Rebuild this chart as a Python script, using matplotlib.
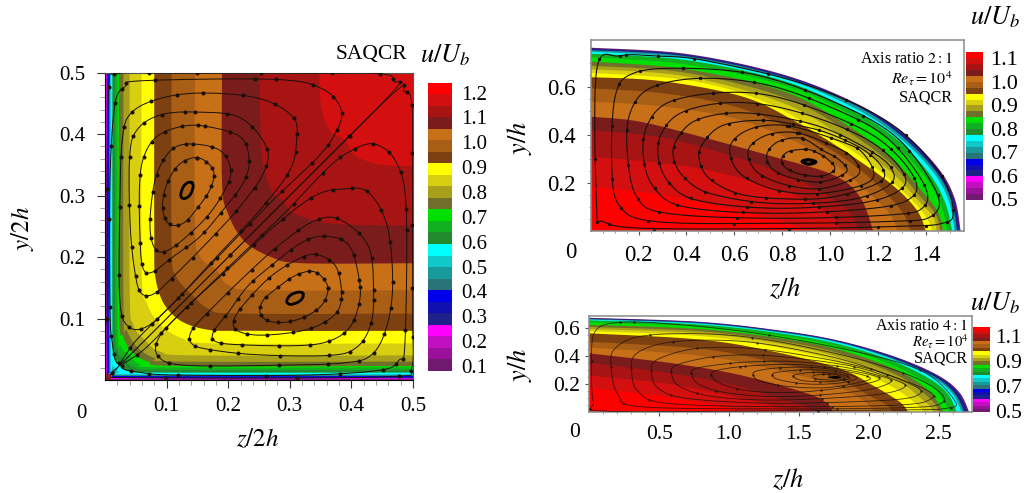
import numpy as np
import matplotlib
matplotlib.use('Agg')
import matplotlib.pyplot as plt
from matplotlib.colors import ListedColormap

plt.rcParams['font.family'] = ['Liberation Serif', 'DejaVu Serif']
plt.rcParams['mathtext.fontset'] = 'stix'

W, H = 1029, 493

# colour bands, lowest value first
band_colors = ['#701a70', '#9a109a', '#c010c0', '#ff00ff', '#20208a', '#1010b0', '#0000e8',
               '#2a7478', '#189a9a', '#10c8c8', '#00ffff', '#208a2c', '#10b020', '#00e000',
               '#70702c', '#a8a01a', '#d8cf10', '#ffff00', '#7d4010', '#a85e14', '#c87018',
               '#7a1c1c', '#a81414', '#d40f0f', '#ff0000']

# ------------------------------------------------------------------ square duct
# iso-lines, half of each: from the top edge down to the diagonal
sq_colors = band_colors[1:24]
sq_levels = [
    [(.001, .5), (.001, .02), (.003, .003)],
    [(.0015, .5), (.0015, .02), (.004, .004)],
    [(.002, .5), (.002, .02), (.005, .005)],
    [(.003, .5), (.003, .025), (.007, .007)],
    [(.004, .5), (.004, .025), (.008, .008)],
    [(.005, .5), (.005, .03), (.010, .010)],
    [(.0065, .5), (.0065, .03), (.012, .012)],
    [(.0075, .5), (.0075, .035), (.010, .018), (.014, .014)],
    [(.0085, .5), (.0085, .035), (.011, .02), (.016, .016)],
    [(.0095, .5), (.0095, .04), (.012, .024), (.019, .019)],
    [(.012, .5), (.012, .1), (.014, .04), (.024, .024)],
    [(.0165, .5), (.0165, .1), (.02, .05), (.032, .032)],
    [(.0205, .5), (.0205, .1), (.026, .055), (.04, .04)],
    [(.0227, .5), (.0227, .12), (.03, .07), (.045, .045)],
    [(.03, .5), (.03, .12), (.036, .08), (.053, .053)],
    [(.04, .5), (.04, .15), (.046, .09), (.065, .065)],
    [(.0595, .5), (.0595, .18), (.068, .125), (.09, .09)],
    [(.08, .5), (.08, .25), (.083, .16), (.108, .108)],
    [(.108, .5), (.108, .22), (.115, .17), (.14, .14)],
    [(.146, .5), (.146, .25), (.155, .2), (.18, .18)],
    [(.19, .5), (.19, .32), (.2, .27), (.226, .226)],
    [(.251, .5), (.253, .39), (.258, .345), (.272, .305), (.29, .29)],
    [(.348, .5), (.351, .444), (.366, .405), (.39, .39)],
]
sq_corner_x = [0, .01, .01, 0]
sq_corner_y = [0, 0, .01, .01]

# streamlines of the upper vortex, the lower one is its mirror image
sq_core = [(.141, .321), (.143, .314), (.138, .301), (.128, .295), (.123, .301), (.127, .314), (.134, .321)]
sq_loop_g = [(.149, .362), (.170, .350), (.177, .333), (.170, .309), (.154, .285), (.130, .257),
             (.108, .252), (.096, .266), (.094, .293), (.103, .325), (.122, .352)]
sq_loop_f = [(.143, .384), (.186, .374), (.204, .344), (.197, .314), (.170, .271), (.132, .233),
             (.100, .210), (.081, .214), (.073, .249), (.078, .309), (.089, .347), (.111, .377)]
sq_loop_e = [(.162, .413), (.219, .396), (.234, .358), (.224, .320), (.192, .277), (.154, .233), (.111, .201),
             (.078, .176), (.062, .181), (.057, .227), (.056, .315), (.063, .363), (.084, .396), (.122, .412)]
sq_loop_d = [(.146, .436), (.219, .427), (.262, .379), (.257, .336), (.219, .282), (.170, .228), (.116, .173),
             (.081, .141), (.059, .141), (.049, .173), (.041, .249), (.040, .363), (.052, .407), (.089, .431)]
sq_loop_c = [(.159, .467), (.251, .458), (.305, .428), (.311, .390), (.300, .341), (.251, .276), (.186, .206),
             (.111, .125), (.068, .087), (.038, .087), (.024, .130), (.024, .282), (.028, .390), (.042, .434),
             (.089, .458)]
sq_loop_b = [(.278, .489), (.354, .473), (.384, .437), (.371, .396), (.343, .360), (.273, .293), (.197, .214),
             (.116, .130), (.051, .065), (.022, .027), (.012, .06), (.008, .119), (.008, .325), (.016, .447),
             (.032, .477), (.062, .487)]
sq_open_a = [(.012, .012), (.25, .25), (.46, .461), (.469, .486), (.451, .498), (.354, .499), (.208, .499),
             (.10, .499), (.02, .498), (.006, .47), (.003, .25), (.004, .01)]

# ------------------------------------------------------------------ ellipse 2:1
el2_colors = ['#701a70', '#20208a', '#189a9a', '#00ffff', '#10b020', '#00e000', '#70702c', '#a8a01a', '#d8cf10',
              '#ffff00', '#7d4010', '#a85e14', '#c87018', '#7a1c1c', '#a81414', '#d40f0f', '#ff0000']
el2_levels = [
    [(0, .765), (.4, .739), (.8, .654), (1.1, .537), (1.3, .413), (1.45, .264), (1.52, .137), (1.545, 0)],
    [(0, .762), (.4, .736), (.8, .651), (1.1, .534), (1.3, .41), (1.445, .262), (1.515, .136), (1.54, 0)],
    [(0, .755), (.4, .729), (.8, .644), (1.1, .527), (1.29, .403), (1.435, .257), (1.505, .132), (1.53, 0)],
    [(0, .748), (.4, .722), (.8, .637), (1.09, .519), (1.28, .397), (1.425, .252), (1.495, .127), (1.52, 0)],
    [(0, .74), (.4, .713), (.8, .628), (1.08, .51), (1.27, .39), (1.41, .245), (1.48, .12), (1.51, 0)],
    [(0, .725), (.4, .695), (.8, .61), (1.06, .5), (1.25, .375), (1.39, .235), (1.46, .115), (1.49, 0)],
    [(0, .707), (.4, .675), (.8, .585), (1.05, .455), (1.25, .31), (1.38, .17), (1.45, .08), (1.472, 0)],
    [(0, .69), (.4, .66), (.8, .56), (1.05, .43), (1.25, .285), (1.37, .15), (1.44, .07), (1.46, 0)],
    [(0, .675), (.4, .645), (.8, .535), (1.05, .395), (1.25, .25), (1.37, .125), (1.43, .06), (1.445, 0)],
    [(0, .66), (.4, .63), (.7, .55), (.95, .42), (1.15, .295), (1.32, .15), (1.4, .06), (1.425, 0)],
    [(0, .642), (.3, .625), (.637, .56), (.85, .46), (1.05, .34), (1.25, .2), (1.36, .09), (1.40, 0)],
    [(0, .595), (.3, .575), (.6, .52), (.85, .42), (1.05, .31), (1.2, .19), (1.3, .08), (1.335, 0)],
    [(0, .54), (.3, .52), (.6, .47), (.85, .375), (1.03, .27), (1.15, .17), (1.25, .07), (1.28, 0)],
    [(0, .477), (.206, .456), (.484, .387), (.763, .31), (1.013, .234), (1.124, .143), (1.18, 0)],
    [(0, .42), (.3, .39), (.6, .31), (.85, .22), (1.0, .14), (1.08, .08), (1.12, 0)],
    [(0, .31), (.4, .27), (.7, .2), (.9, .13), (1.0, .07), (1.05, 0)],
    [(0, .185), (.3, .15), (.6, .09), (.8, .04), (.9, 0)],
]
el2_loops = [
    [(.122, .731), (.025, .672), (.025, .1), (.053, .039), (.234, .011), (.9, .011), (1.3, .02), (1.46, .03),
     (1.514, .074), (1.458, .241), (1.25, .45), (.9, .61), (.484, .71), (.28, .73)],
    [(.387, .679), (.178, .658), (.102, .561), (.088, .269), (.122, .102), (.275, .039), (.763, .032), (1.25, .04),
     (1.42, .06), (1.445, .16), (1.278, .39), (1.013, .54), (.693, .651)],
    [(.456, .637), (.248, .596), (.164, .491), (.153, .324), (.192, .143), (.317, .074), (.763, .053), (1.25, .067),
     (1.39, .1), (1.389, .2), (1.236, .39), (1.013, .512), (.735, .61)],
    [(.512, .575), (.317, .533), (.234, .436), (.22, .31), (.262, .185), (.387, .102), (.763, .074), (1.18, .095),
     (1.34, .14), (1.347, .23), (1.208, .38), (.985, .491), (.735, .568)],
    [(.54, .533), (.373, .491), (.296, .408), (.282, .31), (.324, .206), (.442, .129), (.763, .095), (1.124, .116),
     (1.29, .17), (1.305, .245), (1.18, .366), (.971, .463), (.735, .526)],
    [(.567, .491), (.428, .456), (.359, .38), (.345, .31), (.387, .227), (.498, .157), (.763, .115), (1.083, .13),
     (1.25, .195), (1.25, .27), (1.138, .352), (.957, .436), (.735, .484)],
    [(.72, .462), (.55, .44), (.465, .36), (.455, .29), (.5, .215), (.62, .155), (.79, .135), (1.0, .14),
     (1.2, .2), (1.22, .26), (1.14, .338), (1.0, .405), (.87, .44)],
    [(.818, .44), (.665, .425), (.582, .352), (.623, .241), (.777, .171), (.971, .158), (1.173, .213), (1.138, .324),
     (1.027, .38)],
    [(.86, .41), (.735, .40), (.658, .338), (.693, .248), (.818, .192), (.971, .178), (1.117, .234), (1.09, .31),
     (.999, .36)],
    [(.881, .387), (.783, .373), (.735, .317), (.763, .255), (.86, .216), (.971, .206), (1.069, .248), (1.034, .30),
     (.971, .335)],
    [(.895, .341), (.825, .331), (.797, .299), (.818, .261), (.888, .234), (.971, .230), (1.02, .261), (.985, .303),
     (.936, .331)],
]
el2_core = [(.885, .29), (.91, .297), (.94, .288), (.91, .279)]

# ------------------------------------------------------------------ ellipse 4:1
el4_colors = el2_colors
el4_levels = [
    [(0, .67), (.8, .641), (1.4, .575), (1.8, .505), (2.2, .39), (2.5, .26), (2.65, .14), (2.72, 0)],
    [(0, .667), (.8, .638), (1.4, .572), (1.8, .502), (2.195, .387), (2.495, .257), (2.64, .138), (2.71, 0)],
    [(0, .662), (.8, .632), (1.4, .566), (1.8, .495), (2.18, .38), (2.475, .25), (2.615, .134), (2.685, 0)],
    [(0, .657), (.8, .628), (1.4, .561), (1.8, .49), (2.17, .375), (2.46, .245), (2.6, .13), (2.665, 0)],
    [(0, .652), (.8, .622), (1.4, .555), (1.8, .48), (2.17, .365), (2.44, .235), (2.57, .125), (2.63, 0)],
    [(0, .638), (.8, .607), (1.4, .54), (1.8, .46), (2.17, .335), (2.43, .2), (2.53, .09), (2.58, 0)],
    [(0, .62), (.8, .59), (1.4, .52), (1.8, .44), (2.2, .3), (2.42, .16), (2.5, .06), (2.535, 0)],
    [(0, .605), (.8, .575), (1.4, .5), (1.8, .415), (2.2, .265), (2.4, .13), (2.48, .05), (2.5, 0)],
    [(0, .59), (.8, .56), (1.4, .48), (1.8, .385), (2.2, .225), (2.37, .1), (2.44, .04), (2.46, 0)],
    [(0, .575), (.8, .54), (1.35, .46), (1.8, .35), (2.15, .19), (2.3, .09), (2.37, .03), (2.39, 0)],
    [(0, .56), (.8, .515), (1.32, .43), (1.79, .31), (2.03, .19), (2.22, .075), (2.284, 0)],
    [(0, .5), (.8, .45), (1.3, .36), (1.75, .25), (2.0, .12), (2.13, .05), (2.17, 0)],
    [(0, .46), (.8, .4), (1.3, .31), (1.75, .19), (1.95, .09), (2.02, .03), (2.05, 0)],
    [(0, .418), (.6, .347), (1.08, .264), (1.556, .135), (1.70, .064), (1.747, 0)],
    [(0, .35), (.5, .29), (1.0, .2), (1.35, .1), (1.55, .04), (1.6, 0)],
    [(0, .26), (.5, .21), (1.0, .12), (1.3, .05), (1.45, 0)],
    [(0, .17), (.4, .13), (.8, .07), (1.0, .03), (1.1, 0)],
]
el4_loops = [
    [(.22, .638), (.04, .571), (.017, .312), (.029, .076), (.1, .009), (1.08, .009), (2.27, .017), (2.55, .028),
     (2.62, .076), (2.39, .288), (1.91, .43), (1.2, .56), (.6, .625)],
    [(.434, .548), (.184, .453), (.16, .288), (.208, .123), (.363, .04), (1.317, .024), (2.27, .033), (2.52, .064),
     (2.5, .15), (2.27, .27), (1.795, .41), (1.08, .54)],
    [(.601, .5), (.339, .418), (.303, .288), (.351, .146), (.554, .064), (1.317, .04), (2.224, .052), (2.45, .099),
     (2.41, .16), (2.153, .26), (1.747, .39), (1.126, .50)],
    [(.768, .453), (.482, .371), (.446, .276), (.494, .17), (.697, .099), (1.317, .064), (2.153, .087), (2.37, .135),
     (2.3, .2), (2.033, .3), (1.675, .38), (1.198, .45)],
    [(.888, .394), (.625, .335), (.59, .269), (.649, .182), (.888, .111), (1.365, .087), (2.033, .123), (2.26, .182),
     (2.16, .24), (1.914, .32), (1.556, .375), (1.198, .406)],
    [(1.007, .347), (.768, .312), (.733, .269), (.792, .194), (1.007, .135), (1.413, .111), (1.938, .151),
     (2.16, .217), (2.04, .27), (1.795, .325), (1.461, .36), (1.222, .36)],
    [(1.079, .323), (.9, .293), (.876, .26), (.936, .205), (1.15, .151), (1.484, .142), (1.866, .182), (2.081, .236),
     (1.938, .283), (1.699, .32), (1.413, .34)],
    [(1.365, .316), (1.198, .293), (1.174, .26), (1.234, .217), (1.437, .182), (1.699, .175), (1.938, .213),
     (2.01, .246), (1.842, .29), (1.604, .318)],
    [(1.508, .3), (1.341, .283), (1.31, .26), (1.365, .229), (1.556, .201), (1.771, .205), (1.914, .241),
     (1.795, .283), (1.652, .3)],
    [(1.604, .283), (1.484, .269), (1.461, .253), (1.532, .224), (1.723, .217), (1.866, .241), (1.771, .274)],
    [(1.675, .269), (1.604, .26), (1.628, .236), (1.771, .229), (1.83, .246), (1.747, .269)],
]
el4_core = [(1.71, .248), (1.76, .255), (1.80, .247), (1.76, .241)]

# tick labels
sq_ticks = [.1, .2, .3, .4, .5]
el2_xticks = [.2, .4, .6, .8, 1.0, 1.2, 1.4]
el2_yticks = [.2, .4, .6]
el4_xticks = [.5, 1.0, 1.5, 2.0, 2.5]
el4_yticks = [.2, .4, .6]
bar1_ticks = [.1, .2, .3, .4, .5, .6, .7, .8, .9, 1.0, 1.1, 1.2]
bar2_ticks = [.5, .6, .7, .8, .9, 1.0, 1.1]
bar3_ticks = [.5, .7, .9, 1.1]


def spline(pts, closed=False, n=16):
    # Catmull-Rom through the read points, only so the curves are not jagged
    p = np.array(pts, dtype=float)
    if closed:
        p = np.vstack([p[-1], p, p[0], p[1]])
    else:
        p = np.vstack([p[0], p, p[-1]])
    out = []
    t = np.linspace(0, 1, n, endpoint=False)[:, None]
    for i in range(1, len(p) - 2):
        a, b, c, d = p[i - 1], p[i], p[i + 1], p[i + 2]
        out.append(.5 * (2 * b + (c - a) * t + (2 * a - 5 * b + 4 * c - d) * t ** 2 + (3 * b - a - 3 * c + d) * t ** 3))
    out.append(p[-2][None, :])
    return np.vstack(out)


def px_axes(fig, left, top, right, bottom):
    return fig.add_axes([left / W, 1 - bottom / H, (right - left) / W, (bottom - top) / H])


def mirror(half):
    return half + [(y, x) for x, y in half[-2::-1]]


def colorbar(fig, box, vlim, ticks, fs, pad):
    cax = px_axes(fig, *box)
    edges = np.linspace(vlim[0], vlim[1], len(band_colors) + 1)
    cax.pcolormesh([0, 1], edges, np.arange(len(band_colors))[:, None], cmap=ListedColormap(band_colors))
    cax.set_xticks([])
    cax.yaxis.tick_right()
    cax.set_yticks(ticks)
    cax.set_yticklabels(['%.1f' % v for v in ticks], fontsize=fs)
    cax.tick_params(axis='y', length=0, pad=pad)
    for s in cax.spines.values():
        s.set_visible(False)
    return cax


def dress(ax, xticks, yticks, xminor, yminor, ticklen, xpad, ypad, fs, color):
    ax.set_xticks(xticks)
    ax.set_xticklabels(['%.1f' % v for v in xticks], fontsize=fs)
    ax.set_yticks(yticks)
    ax.set_yticklabels(['%.1f' % v for v in yticks], fontsize=fs)
    ax.set_xticks(xminor, minor=True)
    ax.set_yticks(yminor, minor=True)
    ax.tick_params(axis='x', length=ticklen, width=.8, pad=xpad, color=color)
    ax.tick_params(axis='y', length=ticklen, width=.8, pad=ypad, color=color)
    ax.tick_params(which='minor', length=ticklen * .55, width=.5, color='#777777')


fig = plt.figure(figsize=(W / 100, H / 100), dpi=100)

# square duct
ax = px_axes(fig, 105, 72.7, 413, 380)
ax.set_xlim(0, .5)
ax.set_ylim(0, .5)
ax.set_facecolor(band_colors[0])
for c, half in zip(sq_colors, sq_levels):
    xy = spline(mirror(half))
    ax.fill(np.r_[xy[:, 0], .5], np.r_[xy[:, 1], .5], color=c, lw=0, zorder=2)
ax.fill(sq_corner_x, sq_corner_y, color='#8a1530', lw=0, zorder=2)
for loop in [sq_loop_b, sq_loop_c, sq_loop_d, sq_loop_e, sq_loop_f, sq_loop_g]:
    xy = spline(loop, closed=True)
    for a, b in [(0, 1), (1, 0)]:
        ax.plot(xy[:, a], xy[:, b], color='#1a1008', lw=.7, marker='o', ms=1.9, markevery=11, zorder=3)
for a, b in [(0, 1), (1, 0)]:
    xy = spline(sq_open_a)
    ax.plot(xy[:, a], xy[:, b], color='#1a1008', lw=.6, marker='o', ms=1.9, markevery=13, zorder=3)
    xy = spline(sq_core, closed=True)
    ax.plot(xy[:, a], xy[:, b], color='k', lw=2, zorder=3)
for name in ['top', 'right']:
    ax.spines[name].set_color('#555555')
dress(ax, sq_ticks, sq_ticks, np.arange(.02, .5, .02), np.arange(.02, .5, .02), 6, 6.5, 8, 15, '#333333')
ax.annotate('0', xy=(0, 0), xytext=(-17, -24), textcoords='offset points', fontsize=15, ha='center', va='center',
            annotation_clip=False)
colorbar(fig, (428, 82.7, 452, 370.7), (.081, 1.24), bar1_ticks, 15, 6.5)
fig.text(371 / W, 1 - 55 / H, 'SAQCR', fontsize=15.5, ha='center', va='center')
fig.text(445 / W, 1 - 55 / H, '$u/U_b$', fontsize=19, ha='center', va='center')
fig.text(258 / W, 1 - 440 / H, '$z/2h$', fontsize=18, ha='center', va='center')
fig.text(22 / W, 1 - 228 / H, '$y/2h$', fontsize=18, ha='center', va='center', rotation=90)

# 2:1 ellipse
ax2 = px_axes(fig, 590.7, 40, 964, 231)
ax2.set_xlim(0, 1.559)
ax2.set_ylim(0, .797)
for c, lev in zip(el2_colors, el2_levels):
    xy = spline(lev)
    ax2.fill(np.r_[xy[:, 0], 0], np.r_[xy[:, 1], 0], color=c, lw=0, zorder=2)
for loop in el2_loops:
    xy = spline(loop, closed=True)
    ax2.plot(xy[:, 0], xy[:, 1], color='#1a1008', lw=.8, marker='o', ms=1.4, markevery=13, zorder=3)
xy = spline(el2_core, closed=True)
ax2.plot(xy[:, 0], xy[:, 1], color='k', lw=2.4, zorder=3)
for s in ax2.spines.values():
    s.set_color('#8a8a8a')
    s.set_linewidth(1.1)
dress(ax2, el2_xticks, el2_yticks, np.arange(.05, 1.55, .05), np.arange(.05, .75, .05), 3, 7, 8, 16.5, '#555555')
ax2.annotate('0', xy=(0, 0), xytext=(-14, -15.5), textcoords='offset points', fontsize=16.5, ha='center', va='center',
             annotation_clip=False)
colorbar(fig, (966, 52.3, 983, 200), (.497, 1.126), bar2_ticks, 16, 5)
fig.text(952.7 / W, 1 - 59 / H, 'Axis ratio $2:1$', fontsize=11.5, ha='right', va='center')
fig.text(952.7 / W, 1 - 79 / H, r'$Re_{\tau}=10^4$', fontsize=11.5, ha='right', va='center')
fig.text(952.7 / W, 1 - 97 / H, 'SAQCR', fontsize=11.7, ha='right', va='center')
fig.text(995 / W, 1 - 17 / H, '$u/U_b$', fontsize=19, ha='center', va='center')
fig.text(785 / W, 1 - 288 / H, '$z/h$', fontsize=19, ha='center', va='center')
fig.text(520 / W, 1 - 138 / H, '$y/h$', fontsize=19, ha='center', va='center', rotation=90)

# 4:1 ellipse
ax3 = px_axes(fig, 589.3, 315.7, 971.7, 412.3)
ax3.set_xlim(0, 2.737)
ax3.set_ylim(0, .685)
for c, lev in zip(el4_colors, el4_levels):
    xy = spline(lev)
    ax3.fill(np.r_[xy[:, 0], 0], np.r_[xy[:, 1], 0], color=c, lw=0, zorder=2)
for loop in el4_loops:
    xy = spline(loop, closed=True)
    ax3.plot(xy[:, 0], xy[:, 1], color='#1a1008', lw=.6, alpha=.8, marker='o', ms=.7, markevery=29, zorder=3)
xy = spline(el4_core, closed=True)
ax3.fill(xy[:, 0], xy[:, 1], color='k', lw=.5, zorder=3)
for s in ax3.spines.values():
    s.set_color('#8a8a8a')
    s.set_linewidth(1.1)
dress(ax3, el4_xticks, el4_yticks, np.arange(.1, 2.7, .1), np.arange(.05, .65, .05), 3, 6.5, 3.6, 15.5, '#555555')
ax3.annotate('0', xy=(0, 0), xytext=(-10.5, -14.5), textcoords='offset points', fontsize=15.5, ha='center', va='center',
             annotation_clip=False)
colorbar(fig, (973, 327.3, 990, 412.3), (.49, 1.166), bar3_ticks, 15.5, 3.6)
fig.text(968 / W, 1 - 326 / H, 'Axis ratio $4:1$', fontsize=11.5, ha='right', va='center')
fig.text(968 / W, 1 - 342 / H, r'$Re_{\tau}=10^4$', fontsize=10.5, ha='right', va='center')
fig.text(968 / W, 1 - 358.5 / H, 'SAQCR', fontsize=11.7, ha='right', va='center')
fig.text(995 / W, 1 - 303 / H, '$u/U_b$', fontsize=19, ha='center', va='center')
fig.text(788 / W, 1 - 479 / H, '$z/h$', fontsize=19, ha='center', va='center')
fig.text(520 / W, 1 - 365 / H, '$y/h$', fontsize=19, ha='center', va='center', rotation=90)

fig.savefig('out.png', dpi=100)
